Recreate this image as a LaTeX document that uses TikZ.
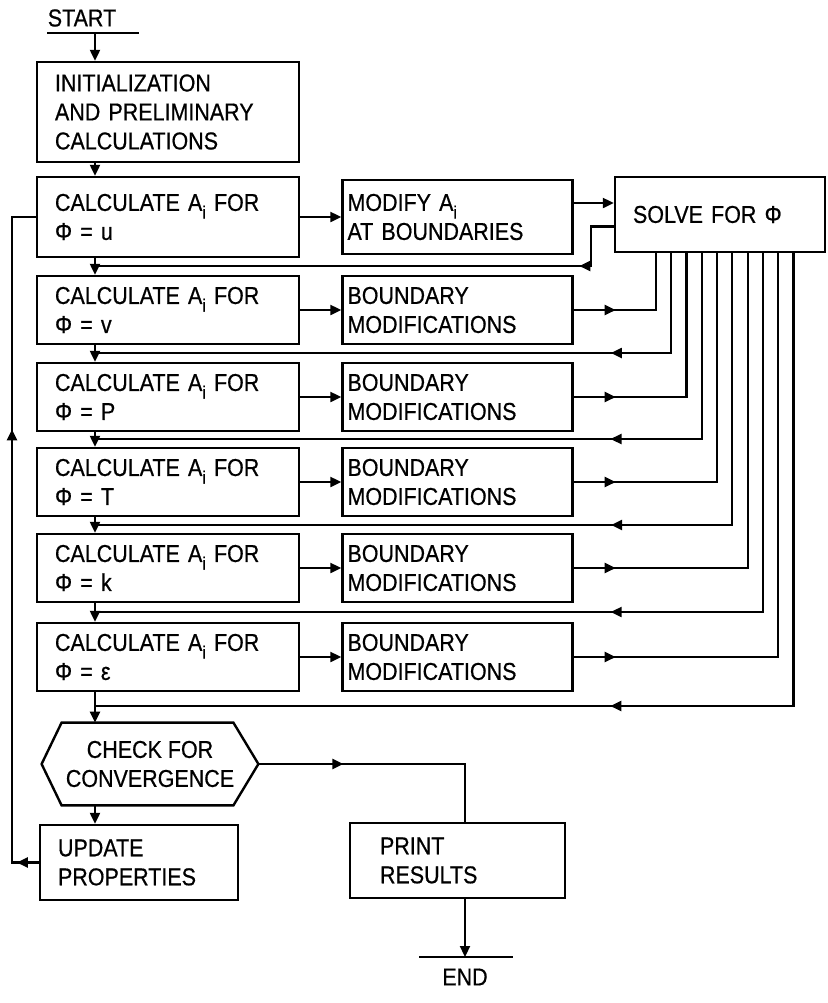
\documentclass[tikz,border=0pt]{standalone}
\usepackage{fontspec}
\setmainfont{Liberation Sans}[FakeStretch=0.88, FakeBold=0.6]
\usetikzlibrary{arrows.meta,decorations.markings}
\newcommand{\Asub}{A\raisebox{-0.6ex}{\small i}}

\begin{document}
\begin{tikzpicture}[x=0.5pt, y=-0.5pt,
    every node/.style={font=\fontsize{12.2}{14.5}\selectfont},
    box/.style={draw, line width=1.2pt, align=left, inner ysep=2pt},
    calcbox/.style={box, text width=113pt, inner xsep=9pt, minimum height=34pt},
    bndbox/.style={box, text width=110pt, inner xsep=2.5pt, minimum height=34pt},
    conn/.style={line width=1.1pt},
    arrow/.style={conn, -{Triangle[length=5.5pt,width=5pt]}},
    midarrow/.style={postaction={decorate, decoration={markings, mark=at position #1 with {\arrow{Triangle[length=5.5pt,width=5pt]}}}}}]
    \useasboundingbox (0,0) rectangle (828,1003);

    \node (start) at (82,18) {START};
    \coordinate (startbar) at (95,33);
    \node[calcbox, minimum height=50pt] (init) at (168,112) {INITIALIZATION\\AND PRELIMINARY\\CALCULATIONS};

    \node[calcbox, minimum height=40pt] (cu) at (168,217) {CALCULATE \Asub{} FOR\\Φ = u};
    \node[bndbox, minimum height=37pt] (mod) at (457.5,217) {MODIFY \Asub\\AT BOUNDARIES};
    \node[box, text width=87pt, inner xsep=9pt, minimum height=37.5pt] (solve) at (720,214.5) {SOLVE FOR Φ};

    \node[calcbox] (cv) at (168,310) {CALCULATE \Asub{} FOR\\Φ = v};
    \node[bndbox] (bv) at (457.5,310) {BOUNDARY\\MODIFICATIONS};
    \node[calcbox] (cP) at (168,397) {CALCULATE \Asub{} FOR\\Φ = P};
    \node[bndbox] (bP) at (457.5,397) {BOUNDARY\\MODIFICATIONS};
    \node[calcbox] (cT) at (168,482) {CALCULATE \Asub{} FOR\\Φ = T};
    \node[bndbox] (bT) at (457.5,482) {BOUNDARY\\MODIFICATIONS};
    \node[calcbox] (ck) at (168,568) {CALCULATE \Asub{} FOR\\Φ = k};
    \node[bndbox] (bk) at (457.5,568) {BOUNDARY\\MODIFICATIONS};
    \node[calcbox] (ce) at (168,657) {CALCULATE \Asub{} FOR\\Φ = ε};
    \node[bndbox] (be) at (457.5,657) {BOUNDARY\\MODIFICATIONS};

    \node[minimum width=108pt, minimum height=41pt, align=center] (chk) at (150,764) {CHECK FOR\\CONVERGENCE};
    \draw[line width=1.2pt] (chk.west) -- ([xshift=10pt]chk.north west) -- ([xshift=-12.5pt]chk.north east) -- (chk.east)
        -- ([xshift=-12.5pt]chk.south east) -- ([xshift=10pt]chk.south west) -- cycle;
    \node[box, text width=81pt, inner xsep=9pt, minimum height=37.5pt] (upd) at (139,862.5) {UPDATE\\PROPERTIES};
    \node[box, text width=77.5pt, inner xsep=15pt, minimum height=37.5pt] (prt) at (457.5,860.5) {PRINT\\RESULTS};
    \coordinate (endbar) at (465,957);
    \node (stop) at (465,977) {END};

    \coordinate (lu) at (95,266);
    \coordinate (lv) at (95,353);
    \coordinate (lP) at (95,439);
    \coordinate (lT) at (95,525);
    \coordinate (lk) at (95,612);
    \coordinate (le) at (95,706);
    \coordinate (fb) at (12,217);
    \foreach \i in {1,...,10}
        \coordinate (s\i) at ([xshift={21pt+7.65pt*(\i-1)}]solve.south west);

    \draw[conn] ([xshift=-24pt]startbar) -- ([xshift=22pt]startbar);
    \draw[arrow] (startbar) -- (init.north -| startbar);
    \draw[arrow] (init.south -| lu) -- (cu.north -| lu);
    \draw[arrow] (cu.south -| lu) -- (cv.north -| lu);
    \draw[arrow] (cv.south -| lu) -- (cP.north -| lu);
    \draw[arrow] (cP.south -| lu) -- (cT.north -| lu);
    \draw[arrow] (cT.south -| lu) -- (ck.north -| lu);
    \draw[arrow] (ck.south -| lu) -- (ce.north -| lu);
    \draw[arrow] (ce.south -| le) -- (chk.north -| le);
    \draw[arrow] (chk.south -| le) -- (upd.north -| le);

    \draw[arrow] (cu.east) -- (mod.west);
    \draw[arrow] (cv.east) -- (bv.west);
    \draw[arrow] (cP.east) -- (bP.west);
    \draw[arrow] (cT.east) -- (bT.west);
    \draw[arrow] (ck.east) -- (bk.west);
    \draw[arrow] (ce.east) -- (be.west);

    \draw[arrow] ([yshift=7pt]mod.east) -- ([yshift=7pt]mod.east -| solve.west);
    \draw[conn, midarrow=37pt] ([yshift=-6pt]solve.west) -- ++(-23,0) |- (lu);
    \draw[conn, midarrow=21pt] (bv.east) -| (s1);
    \draw[conn, midarrow=80pt] (s2) |- (lv);
    \draw[conn, midarrow=21pt] (bP.east) -| (s3);
    \draw[conn, midarrow=138.5pt] (s4) |- (lP);
    \draw[conn, midarrow=21pt] (bT.east) -| (s5);
    \draw[conn, midarrow=196.5pt] (s6) |- (lT);
    \draw[conn, midarrow=21pt] (bk.east) -| (s7);
    \draw[conn, midarrow=255.5pt] (s8) |- (lk);
    \draw[conn, midarrow=21pt] (be.east) -| (s9);
    \draw[conn, midarrow=318pt] (s10) |- (le);

    \draw[conn, midarrow=11pt, midarrow=230pt] (upd.west) -| (fb) -- (cu.west);
    \draw[conn, midarrow=42.5pt] (chk.east) -| ([xshift=3.75pt]prt.north);
    \draw[arrow] ([xshift=3.75pt]prt.south) -- (endbar);
    \draw[conn] ([xshift=-23pt]endbar) -- ([xshift=24pt]endbar);
\end{tikzpicture}
\end{document}
